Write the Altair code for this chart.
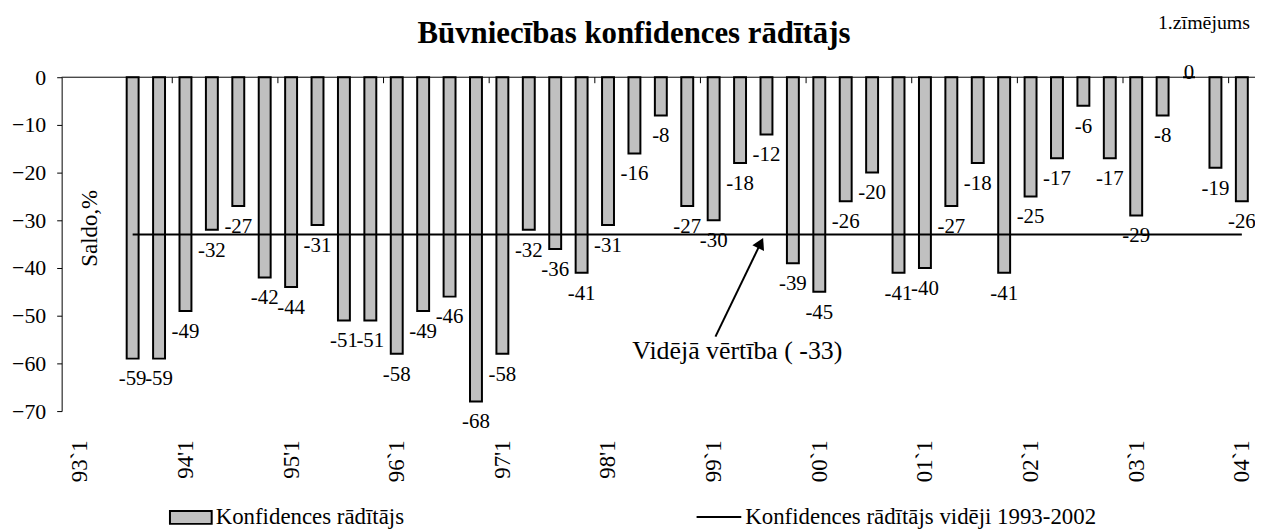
import json
import altair as alt
import pandas as pd

# ---------------- data ----------------
categories = [
    "93'1", "93'2", "93'3", "93'4",
    "94'1", "94'2", "94'3", "94'4",
    "95'1", "95'2", "95'3", "95'4",
    "96'1", "96'2", "96'3", "96'4",
    "97'1", "97'2", "97'3", "97'4",
    "98'1", "98'2", "98'3", "98'4",
    "99'1", "99'2", "99'3", "99'4",
    "00'1", "00'2", "00'3", "00'4",
    "01'1", "01'2", "01'3", "01'4",
    "02'1", "02'2", "02'3", "02'4",
    "03'1", "03'2", "03'3", "03'4",
    "04'1",
]
first_bar_quarter = "93'3"
values = [
    -59, -59,
    -49, -32, -27, -42,
    -44, -31, -51, -51,
    -58, -49, -46, -68,
    -58, -32, -36, -41,
    -31, -16, -8, -27,
    -30, -18, -12, -39,
    -45, -26, -20, -41,
    -40, -27, -18, -41,
    -25, -17, -6, -17,
    -29, -8, 0, -19,
    -26,
]
tick_quarters = ["93'1", "94'1", "95'1", "96'1", "97'1", "98'1",
                 "99'1", "00'1", "01'1", "02'1", "03'1", "04'1"]
tick_labels = ["93`1", "94'1", "95'1", "96`1", "97'1", "98'1",
               "99`1", "00`1", "01`1", "02`1", "03`1", "04`1"]
y_ticks = [-70, -60, -50, -40, -30, -20, -10, 0]

mean_value = -33
mean_from = "93'3"
mean_to = "04'1"

title_text = "Būvniecības konfidences rādītājs"
corner_text = "1.zīmējums"
y_title = "Saldo,%"
bar_series = "Konfidences rādītājs"
mean_series = "Konfidences rādītājs vidēji 1993-2002"
annotation_text = f"Vidējā vērtība ( {mean_value})"

# ---------------- layout ----------------
FONT = "Liberation Serif, Times New Roman, Times, serif"
PLOT_W, PLOT_H = 1201, 336
X_MAX = 44.81
BLACK = "#000000"
GREY = "#c0c0c0"

start = categories.index(first_bar_quarter)
bar_quarters = categories[start:start + len(values)]
df = pd.DataFrame({
    "quarter": bar_quarters,
    "v": values,
    "pos": [categories.index(q) + 0.5 for q in bar_quarters],
    "series": bar_series,
})
df["label"] = df["v"].astype(str)

mean_df = pd.DataFrame({
    "x0": [categories.index(mean_from) + 0.5],
    "x1": [categories.index(mean_to) + 0.5],
    "v": [mean_value],
    "series": [mean_series],
})

tick_pos = [categories.index(q) + 0.5 for q in tick_quarters]
boundary_df = pd.DataFrame({"b": [categories.index(q) for q in tick_quarters[1:]]})
label_expr = f"{json.dumps(tick_labels)}[round((datum.value - 0.5) / 4)]"

x_scale = alt.Scale(domain=[0, X_MAX], nice=False, zero=False)
y_scale = alt.Scale(domain=[-70, 0], nice=False, zero=False)

x_axis = alt.Axis(values=tick_pos, labelExpr=label_expr, labelAngle=270,
                  labelPadding=29, domain=False, ticks=False, grid=False,
                  labelFontSize=23, title=None, labelOverlap=False)
y_axis = alt.Axis(values=y_ticks, tickSize=5, labelPadding=11, grid=False,
                  title=None, labelFontSize=22, domainWidth=1)

bars = alt.Chart(df).mark_bar(width=12, stroke=BLACK, strokeWidth=2).encode(
    x=alt.X("pos:Q", scale=x_scale, axis=x_axis),
    y=alt.Y("v:Q", scale=y_scale, axis=y_axis),
    fill=alt.Fill("series:N",
                  scale=alt.Scale(domain=[bar_series], range=[GREY]),
                  legend=alt.Legend(orient="none", legendX=108, legendY=421,
                                    title=None, padding=0,
                                    symbolType="M-1,-0.31L1,-0.31L1,0.31L-1,0.31Z",
                                    symbolSize=1764, symbolStrokeColor=BLACK,
                                    symbolStrokeWidth=2, symbolFillColor=GREY,
                                    labelOffset=3, labelFont=FONT, labelLimit=500,
                                    labelFontSize=23, labelColor=BLACK)),
)

neg_labels = alt.Chart(df).transform_filter("datum.v < 0").mark_text(
    dy=21, font=FONT, fontSize=21, baseline="middle", color=BLACK
).encode(x=alt.X("pos:Q", scale=x_scale), y=alt.Y("v:Q", scale=y_scale), text="label:N")

zero_labels = alt.Chart(df).transform_filter("datum.v >= 0").mark_text(
    dy=-4, font=FONT, fontSize=21, baseline="middle", color=BLACK
).encode(x=alt.X("pos:Q", scale=x_scale), y=alt.Y("v:Q", scale=y_scale), text="label:N")

mean_line = alt.Chart(mean_df).mark_rule(strokeWidth=2).encode(
    x=alt.X("x0:Q", scale=x_scale),
    x2="x1:Q",
    y=alt.Y("v:Q", scale=y_scale),
    stroke=alt.Stroke("series:N",
                      scale=alt.Scale(domain=[mean_series], range=[BLACK]),
                      legend=alt.Legend(orient="none", legendX=638, legendY=419,
                                        title=None, padding=0,
                                        symbolType="stroke", symbolSize=2025,
                                        symbolStrokeWidth=2, labelOffset=3,
                                        labelFont=FONT, labelFontSize=23,
                                        labelLimit=600, labelColor=BLACK)),
)

zero_line = alt.Chart(pd.DataFrame({"v": [0]})).mark_rule(color=BLACK, strokeWidth=1).encode(
    y=alt.Y("v:Q", scale=y_scale), x=alt.value(0), x2=alt.value(PLOT_W)
)

top_ticks = alt.Chart(boundary_df).mark_rule(color=BLACK, strokeWidth=1).encode(
    x=alt.X("b:Q", scale=x_scale), y=alt.value(0), y2=alt.value(6)
)

annot = alt.Chart(pd.DataFrame({"t": [annotation_text]})).mark_text(
    font=FONT, fontSize=26, color=BLACK, align="center", baseline="middle"
).encode(x=alt.value(680), y=alt.value(276), text="t:N")

arrow_line = alt.Chart(pd.DataFrame({"a": [0]})).mark_rule(color=BLACK, strokeWidth=2).encode(
    x=alt.value(658), y=alt.value(261), x2=alt.value(703), y2=alt.value(168)
)
arrow_head = alt.Chart(pd.DataFrame({"a": [0]})).mark_point(
    shape="triangle-up", filled=True, size=170, angle=26, color=BLACK, opacity=1
).encode(x=alt.value(703.5), y=alt.value(167))

ytitle = alt.Chart(pd.DataFrame({"t": [y_title]})).mark_text(
    font=FONT, fontSize=23, angle=270, color=BLACK, align="center", baseline="middle"
).encode(x=alt.value(29), y=alt.value(152), text="t:N")

title = alt.Chart(pd.DataFrame({"t": [title_text]})).mark_text(
    font=FONT, fontSize=31, fontWeight="bold", color=BLACK, align="center", baseline="middle"
).encode(x=alt.value(576), y=alt.value(-43), text="t:N")

corner = alt.Chart(pd.DataFrame({"t": [corner_text]})).mark_text(
    font=FONT, fontSize=20, color=BLACK, align="right", baseline="alphabetic"
).encode(x=alt.value(1196), y=alt.value(-49), text="t:N")

chart = alt.layer(
    bars, mean_line, zero_line, top_ticks, neg_labels, zero_labels,
    annot, arrow_line, arrow_head, ytitle, title, corner
).properties(
    width=PLOT_W, height=PLOT_H,
    padding={"left": 54, "top": 68, "right": 0, "bottom": 117},
    autosize=alt.AutoSizeParams(type="none"),
).configure_view(stroke=None).configure_axis(
    labelFont=FONT, labelColor=BLACK, domainColor=BLACK, tickColor=BLACK
)

chart.save("out.html", embed_options={"renderer": "svg", "actions": False})
